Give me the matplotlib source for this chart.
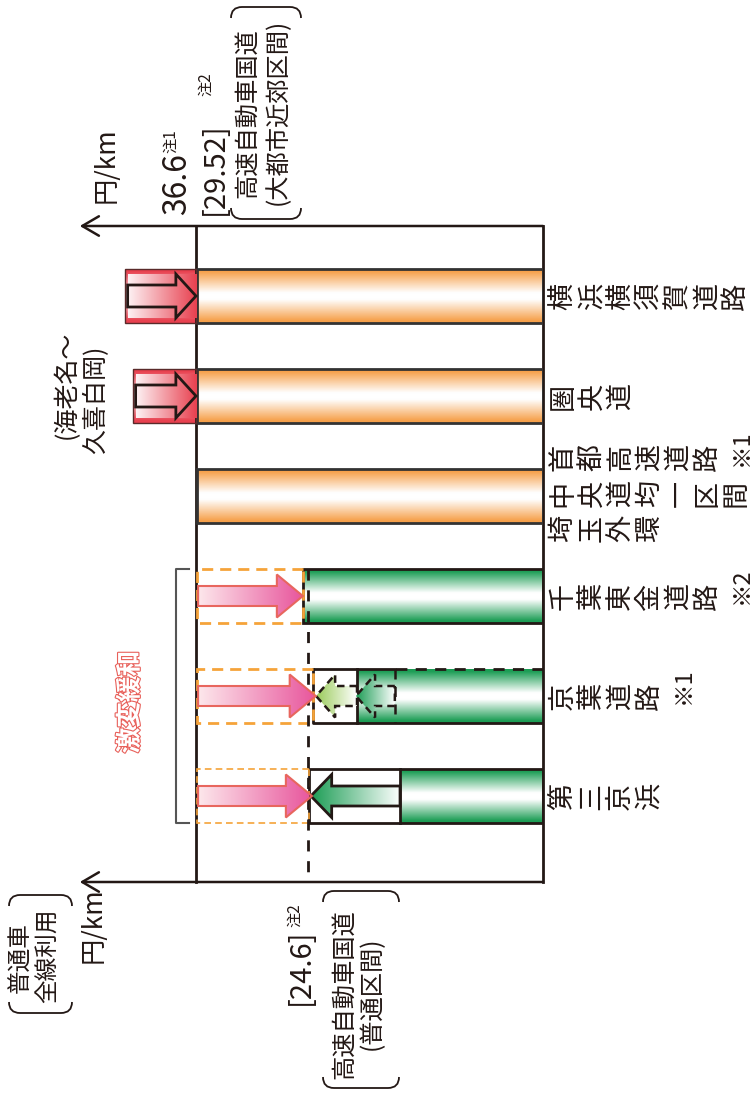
import numpy as np
import matplotlib
matplotlib.use('Agg')
from matplotlib import pyplot as plt
from matplotlib import transforms
from matplotlib.patches import Rectangle, Polygon, PathPatch
from matplotlib.path import Path
from matplotlib.colors import LinearSegmentedColormap
import matplotlib.patheffects as pe

plt.rcParams['font.family'] = ['Noto Sans CJK JP', 'DejaVu Sans']
INK = '#231815'

# categories, top to bottom (multi-row label for the 3rd one)
road_rows = [['横浜横須賀道路'], ['圏央道'], ['首都高速道路', '中央道均一区間', '埼玉外環'],
             ['千葉東金道路'], ['京葉道路'], ['第三京浜']]
notes = ['', '', '※1', '※2', '※1', '']

# schematic lengths: 0 = right axis, 100 = [29.52] level
upper_level = 100.0      # 高速自動車国道(大都市近郊区間)
normal_level = 67.7      # [24.6] 高速自動車国道(普通区間)
orange_len = [99.6, 99.6, 99.6]          # cats 0-2
red_len = [120.5, 118.2]                 # cats 0-1 (before), 海老名～久喜白岡
green_len = [69.2, 53.6, 41.2]           # cats 3-5, current green bars
new_len = [69.2, 66.3, 67.4]             # cats 3-5, after 激変緩和
keiyo_old = 42.7                         # 京葉道路 dashed earlier level

fig = plt.figure(figsize=(7.55, 10.95), dpi=100)
W, H = 755, 1095
ax = fig.add_axes([196 / W, (H - 882) / H, (543 - 196) / W, (882 - 226) / H])
ax.set_xlim(100, 0)
ax.set_ylim(5.86, -0.70)
ax.set_autoscale_on(False)
ax.patch.set_visible(False)
ax.set_xticks([])
ax.set_yticks([])
for s in ['top', 'bottom']:
    ax.spines[s].set_visible(False)
for s in ['left', 'right']:
    ax.spines[s].set_linewidth(2)
    ax.spines[s].set_color(INK)

ov = fig.add_axes([0, 0, 1, 1], zorder=5)
ov.set_xlim(0, W)
ov.set_ylim(H, 0)
ov.axis('off')
ov.patch.set_visible(False)

hh = 0.27


def grad_patch(patch, c_mid, c_edge, ext, horizontal=False, z=2):
    ax.add_patch(patch)
    if horizontal:
        g = np.linspace(0, 1, 256)[None, :]
    else:
        t = np.linspace(-1, 1, 256)[:, None]
        g = np.clip((np.abs(t) - 0.12) / 0.8, 0, 1)
    cmap = LinearSegmentedColormap.from_list('g', [c_mid, c_edge])
    im = ax.imshow(g, cmap=cmap, vmin=0, vmax=1, extent=ext, aspect='auto',
                   interpolation='bilinear', zorder=z)
    im.set_clip_path(patch)


def arrow_pts(x_tail, x_tip, y, sw=0.10, hw=0.215, hl=6.0):
    d = np.sign(x_tip - x_tail)
    xb = x_tip - d * hl
    return [(x_tail, y - sw), (xb, y - sw), (xb, y - hw), (x_tip, y),
            (xb, y + hw), (xb, y + sw), (x_tail, y + sw)]


def grad_arrow(x_tail, x_tip, y, c_tail, c_tip, ec, lw, ls='-', sw=0.10, hw=0.215, hl=6.0, z=4):
    pts = arrow_pts(x_tail, x_tip, y, sw, hw, hl)
    fillp = Polygon(pts, closed=True, facecolor='none', edgecolor='none', zorder=z)
    grad_patch(fillp, c_tail, c_tip, [x_tail, x_tip, y + hw, y - hw], horizontal=True, z=z)
    ax.add_patch(Polygon(pts, closed=True, facecolor='none', edgecolor=ec, lw=lw,
                         linestyle=ls, zorder=z + 0.1, joinstyle='miter'))


# orange bars (unchanged level)
for k, L in enumerate(orange_len):
    r = Rectangle((0, k - hh), L, 2 * hh, facecolor='none', edgecolor='none')
    grad_patch(r, 'white', '#f6a04a', [0, L, k + hh, k - hh])
    ax.add_patch(Rectangle((0, k - hh), L, 2 * hh, facecolor='none', edgecolor='#333333', lw=2, zorder=3))

# red boxes with arrows down to the upper level
for k, L in enumerate(red_len):
    r = Rectangle((upper_level, k - hh), L - upper_level, 2 * hh, facecolor='none', edgecolor='none')
    grad_patch(r, '#fbd6da', '#e8404f', [upper_level, L, k + hh, k - hh])
    ax.add_patch(Rectangle((upper_level, k - hh), L - upper_level, 2 * hh, facecolor='none',
                           edgecolor='#5a2a2a', lw=1, zorder=3, clip_on=False))
    pts = arrow_pts(L - 0.8, upper_level, k, 0.11, 0.22, 5.8)
    fp = Polygon(pts, closed=True, facecolor='none', edgecolor='none', zorder=4, clip_on=False)
    ax.add_patch(fp)
    cm = LinearSegmentedColormap.from_list('r', ['#fdf2f4', '#e8404f'])
    im = ax.imshow(np.linspace(0, 1, 256)[None, :], cmap=cm, extent=[L - 0.8, upper_level, k + 0.22, k - 0.22],
                   aspect='auto', interpolation='bilinear', zorder=4, clip_on=False)
    im.set_clip_path(fp)
    ax.add_patch(Polygon(pts, closed=True, facecolor='none', edgecolor='#231815', lw=2,
                         zorder=4.1, clip_on=False))

# green bars
for j, (G, N) in enumerate(zip(green_len, new_len)):
    k = 3 + j
    ax.add_patch(Rectangle((0, k - hh), N, 2 * hh, facecolor='white', edgecolor='none', zorder=1.5))
    r = Rectangle((0, k - hh), G, 2 * hh, facecolor='none', edgecolor='none')
    grad_patch(r, 'white', '#1c9d55', [0, G, k + hh, k - hh])
    if k == 4:
        ax.plot([keiyo_old, N], [k - hh, k - hh], color=INK, lw=2, zorder=3)
        ax.plot([0, keiyo_old], [k - hh, k - hh], color=INK, lw=2, zorder=3, dashes=(4, 3))
        ax.plot([0, N, N], [k + hh, k + hh, k - hh], color=INK, lw=2, zorder=3)
        ax.plot([keiyo_old, keiyo_old], [k - hh, k + hh], color=INK, lw=1.8, zorder=4.2, dashes=(4, 3))
    else:
        ax.add_patch(Rectangle((0, k - hh), N, 2 * hh, facecolor='none', edgecolor=INK, lw=2, zorder=3))
    if G < N:
        ax.plot([G, G], [k - hh, k + hh], color=INK, lw=2, zorder=3)

# 京葉道路: stepped dashed arrows
grad_arrow(green_len[1], new_len[1] - 0.9, 4, '#ffffff', '#9acb5a', INK, 1.8, ls=(0, (3, 2)), hl=5.5)
grad_arrow(keiyo_old, green_len[1] + 0.3, 4, '#ffffff', '#1c9d55', INK, 1.8, ls=(0, (3, 2)), hl=5.5)
# 第三京浜
grad_arrow(green_len[2], new_len[2] - 0.5, 5, '#ffffff', '#1c9d55', INK, 2, hl=6.0)

# 激変緩和 pink arrows with orange dashed boxes
for j, N in enumerate(new_len):
    k = 3 + j
    lw_box = 1.2 if k == 5 else 2
    ax.add_patch(Rectangle((N, k - hh), 99.6 - N, 2 * hh, facecolor='none', edgecolor='#f5a33a',
                           lw=lw_box, linestyle=(0, (4, 2.5)), zorder=3.5))
    tip = N if k == 3 else N - 0.8
    grad_arrow(99.4, tip, k, '#fde8ec', '#e8559c', '#e8665e', 1.5, hl=7.5)

# [24.6] dashed line
ax.plot([normal_level, normal_level], [3 - hh, 5.86], color=INK, lw=2, dashes=(4, 3.5), zorder=3.6, clip_on=False)

# bracket for 激変緩和
ax.plot([102.1, 105.8, 105.8, 102.1], [3 - hh, 3 - hh, 5 + hh, 5 + hh], color='#555555', lw=1.5, clip_on=False)

# axis lines with open arrowheads
for yv in [-0.70, 5.86]:
    ax.annotate('', xy=(133.5, yv), xytext=(0, yv), xycoords='data', annotation_clip=False,
                arrowprops=dict(arrowstyle='->,head_length=0.6,head_width=0.35', lw=1.8, color=INK,
                                mutation_scale=20, shrinkA=0, shrinkB=0))

# category labels (characters stacked left to right, rotated)
lab_tr = transforms.blended_transform_factory(ov.transData, ax.transData)
for k, rows in enumerate(road_rows):
    n = len(rows)
    offs = (np.arange(n) - (n - 1) / 2) * 0.355 - (0.03 if n > 1 else 0)
    for r, (line, off) in enumerate(zip(rows, offs)):
        for i, ch in enumerate(line):
            ax.text(563 + i * 28.8, k + off, ch, rotation=90, ha='center', va='center',
                    fontsize=19.5, color=INK, transform=lab_tr)
        if r == 0 and notes[k]:
            ax.text(563 + (len(line) - 1) * 28.8 + 34, k + off - 0.1, notes[k], rotation=90,
                    ha='center', va='center', fontsize=17, color=INK, transform=lab_tr)


def otext(x, y, s, size, va='center', **kw):
    ov.text(x, y, s, rotation=90, ha='center', va=va, fontsize=size, color=kw.pop('color', INK), **kw)


def bracket(x1, x2, y, d, r=11):
    verts = [(x1, y + d * r), (x1, y), (x1 + r, y), (x2 - r, y), (x2, y), (x2, y + d * r)]
    codes = [Path.MOVETO, Path.CURVE3, Path.CURVE3, Path.LINETO, Path.CURVE3, Path.CURVE3]
    ov.add_patch(PathPatch(Path(verts, codes), facecolor='none', edgecolor=INK, lw=1.3))


# top annotations
otext(106, 165, '円/km', 19)
otext(177, 215, '36.6', 23, va='bottom')
otext(171, 153, '注1', 11, va='bottom')
otext(215, 215, '[29.52]', 21, va='bottom')
otext(206, 96, '注2', 11, va='bottom')
otext(247, 113, '高速自動車国道', 17.5)
otext(278, 112, '(大都市近郊区間)', 17.5)
bracket(231, 301, 7, 1)
bracket(231, 301, 219, -1)

otext(67, 385, '(海老名～', 18)
otext(96, 400, '久喜白岡)', 18)

ov.text(130, 702, '激変緩和', rotation=90, ha='center', va='center', fontsize=18.5, color='white',
        fontweight='bold', path_effects=[pe.withStroke(linewidth=1.6, foreground='#e8605a')])

# bottom annotations
otext(93, 925, '円/km', 19)
otext(301, 1005, '[24.6]', 21, va='bottom')
otext(295, 927, '注2', 11, va='bottom')
otext(344, 994, '高速自動車国道', 17.5)
otext(372, 993, '(普通区間)', 17.5)
bracket(323, 399, 891, 1)
bracket(323, 399, 1088, -1)

otext(21, 958, '普通車', 17)
otext(48, 956, '全線利用', 17)
bracket(9, 72, 895, 1)
bracket(9, 72, 1013, -1)

fig.savefig('out.png', dpi=100)
